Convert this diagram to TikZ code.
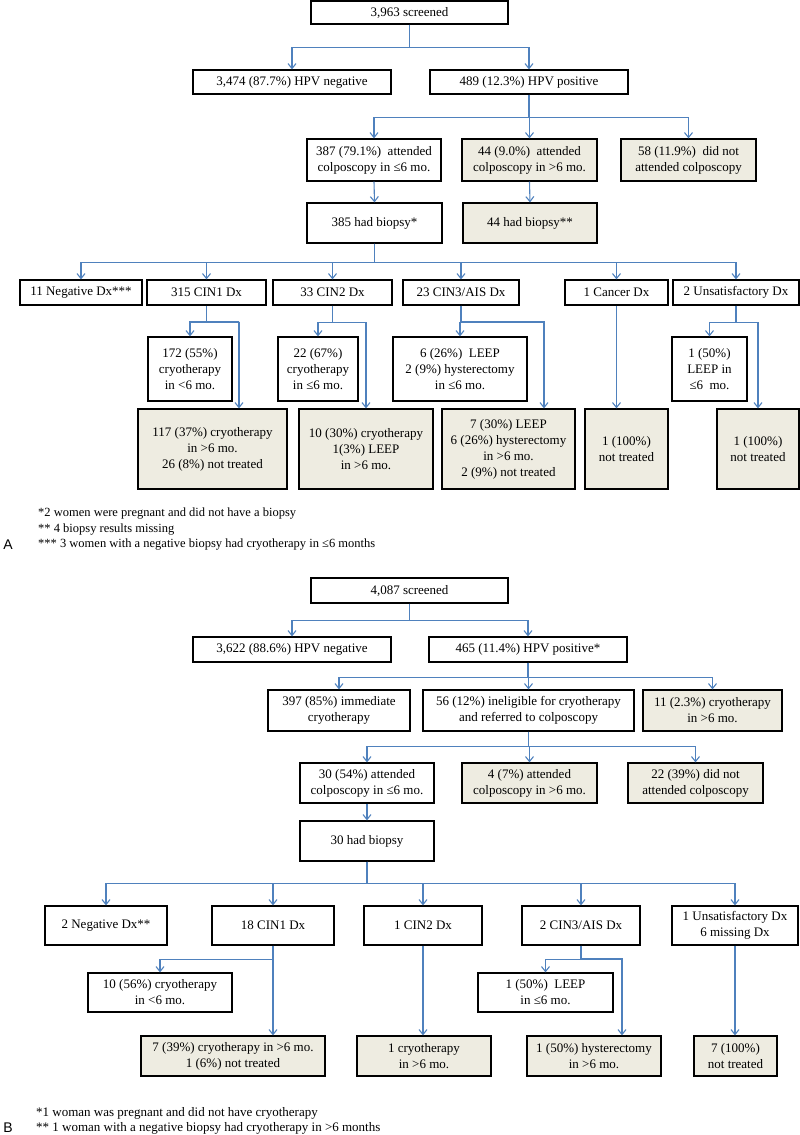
\documentclass[tikz,border=0pt]{standalone}
\usepackage{fontspec}
\setmainfont{Liberation Serif}
\newfontfamily\panelfont{Liberation Sans}
\usepackage{tikz}
\usetikzlibrary{calc}
\usetikzlibrary{arrows.meta}
\definecolor{linkblue}{RGB}{79,129,189}
\definecolor{lategray}{RGB}{238,236,225}
\tikzset{>={Straight Barb[length=5pt,width=8pt]}}
\tikzset{box/.style={draw,line width=1.2pt,align=center,inner sep=1pt,font=\fontsize{13}{16}\selectfont},
  late/.style={box,fill=lategray},
  wh/.style 2 args={minimum width=#1pt,minimum height=#2pt},
  conn/.style={->,draw=linkblue,line width=1.1pt},
  note/.style={anchor=west,inner sep=0pt,font=\fontsize{13}{15}\selectfont},
  panel/.style={inner sep=0pt,font=\panelfont\fontsize{14}{14}\selectfont}}

\begin{document}
\begin{tikzpicture}[x=1pt,y=-1pt]
\useasboundingbox (0,0) rectangle (800,1135);

\node[box,wh={197}{23}] (scrA) at (409.5,12.5) {3,963 screened};
\node[box,wh={198}{24}] (negA) at (292,82) {3,474 (87.7\%) HPV negative};
\node[box,wh={198}{24}] (posA) at (529,82) {489 (12.3\%) HPV positive};
\node[box,wh={134}{42}] (attA) at (374,160) {387 (79.1\%)\ \ attended\\colposcopy in ≤6 mo.};
\node[late,wh={135}{42}] (lateA) at (529.5,160) {44 (9.0\%)\ \ attended\\colposcopy in >6 mo.};
\node[late,wh={135}{42}] (noA) at (688.5,160) {58 (11.9\%)\ \ did not\\attended colposcopy};
\node[box,wh={135}{40}] (bioA) at (374.5,223) {385 had biopsy*};
\node[late,wh={134}{40}] (bio2A) at (530,223) {44 had biopsy**};
\node[box,wh={122}{25}] (negDxA) at (81,292.5) {11 Negative Dx***};
\node[box,wh={119}{25}] (cin1A) at (206.5,292.5) {315 CIN1 Dx};
\node[box,wh={119}{25}] (cin2A) at (332.5,292.5) {33 CIN2 Dx};
\node[box,wh={116}{25}] (cin3A) at (461,292.5) {23 CIN3/AIS Dx};
\node[box,wh={103}{25}] (cancA) at (616.5,292.5) {1 Cancer Dx};
\node[box,wh={126}{25}] (unsA) at (736,292.5) {2 Unsatisfactory Dx};
\node[box,wh={84}{64}] (cryo1A) at (190,369) {172 (55\%)\\cryotherapy\\in <6 mo.};
\node[box,wh={80}{64}] (cryo2A) at (318,369) {22 (67\%)\\cryotherapy\\in ≤6 mo.};
\node[box,wh={134}{64}] (leep3A) at (460,369) {6 (26\%)\ \ LEEP\\2 (9\%) hysterectomy\\in ≤6 mo.};
\node[box,wh={75}{64}] (leepuA) at (709.5,369) {1 (50\%)\\LEEP in\\≤6\ \ mo.};
\node[late,wh={149}{80}] (late1A) at (212.5,449) {117 (37\%) cryotherapy\\in >6 mo.\\26 (8\%) not treated};
\node[late,wh={134}{80}] (late2A) at (366,449) {10 (30\%) cryotherapy\\1(3\%) LEEP\\in >6 mo.};
\node[late,wh={133}{80}] (late3A) at (508.5,449) {7 (30\%) LEEP\\6 (26\%) hysterectomy\\in >6 mo.\\2 (9\%) not treated};
\node[late,wh={83}{80}] (lateCA) at (626.5,449) {1 (100\%)\\not treated};
\node[late,wh={82}{80}] (lateuA) at (758,449) {1 (100\%)\\not treated};
\coordinate (c1A) at (239,322);
\coordinate (c3A) at (544,322);

\draw[conn] (scrA.south) -- ++(0,23) -| (negA.north);
\draw[conn] (scrA.south) -- ++(0,23) -| (posA.north);
\draw[conn] (posA.south) -- ++(0,23) -| (attA.north);
\draw[conn] (posA.south) -- ++(0,23) -| (lateA.north);
\draw[conn] (posA.south) -- ++(0,23) -| (noA.north);
\draw[conn] (attA.south) -- (bioA.north);
\draw[conn] (lateA.south) -- (bio2A.north);
\draw[conn] (bioA.south) -- ++(0,19) -| (negDxA.north);
\draw[conn] (bioA.south) -- ++(0,19) -| (cin1A.north);
\draw[conn] (bioA.south) -- ++(0,19) -| (cin2A.north);
\draw[conn] (bioA.south) -- ++(0,19) -| (cin3A.north);
\draw[conn] (bioA.south) -- ++(0,19) -| (cancA.north);
\draw[conn] (bioA.south) -- ++(0,19) -| (unsA.north);
\draw[conn] (cin1A.south) |- (c1A) -| (cryo1A.north);
\draw[conn] (c1A) -- (c1A |- late1A.north);
\draw[conn] (cin2A.south) -- ++(0,17) -| (cryo2A.north);
\draw[conn] (cin2A.south) -- ++(0,17) -| (late2A.north);
\draw[conn] (cin3A.south) |- (c3A) -- (c3A |- late3A.north);
\draw[conn] (cin3A.south) -- ++(0,17) -| (leep3A.north);
\draw[conn] (cancA.south) -- (cancA.south |- lateCA.north);
\draw[conn] (unsA.south) -- ++(0,17) -| (leepuA.north);
\draw[conn] (unsA.south) -- ++(0,17) -| (lateuA.north);

\node[note,font=\fontsize{12.5}{15}\selectfont] (fnA1) at (38,514) {*2 women were pregnant and did not have a biopsy};
\node[note,font=\fontsize{12.5}{15}\selectfont] (fnA2) at (38,529.5) {** 4 biopsy results missing};
\node[note,font=\fontsize{12.5}{15}\selectfont] (fnA3) at (38,545) {*** 3 women with a negative biopsy had cryotherapy in ≤6 months};
\node[panel] (labA) at (8,545) {A};

\node[box,wh={197}{25}] (scrB) at (409.5,590.5) {4,087 screened};
\node[box,wh={198}{25}] (negB) at (292,649.5) {3,622 (88.6\%) HPV negative};
\node[box,wh={198}{25}] (posB) at (528,649.5) {465 (11.4\%) HPV positive*};
\node[box,wh={142}{41}] (immB) at (339,710.5) {397 (85\%) immediate\\cryotherapy};
\node[box,wh={211}{41}] (inelB) at (528.5,710.5) {56 (12\%) ineligible for cryotherapy\\and referred to colposcopy};
\node[late,wh={139}{41}] (cryB) at (712.5,710.5) {11 (2.3\%) cryotherapy\\in >6 mo.};
\node[box,wh={134}{40}] (attB) at (367,783) {30 (54\%) attended\\colposcopy in ≤6 mo.};
\node[late,wh={135}{40}] (lateB) at (529.5,783) {4 (7\%) attended\\colposcopy in >6 mo.};
\node[late,wh={135}{40}] (noB) at (695.5,783) {22 (39\%) did not\\attended colposcopy};
\node[box,wh={134}{40}] (bioB) at (367,841) {30 had biopsy};
\node[box,wh={122}{39}] (negDxB) at (106,925.5) {2 Negative Dx**};
\node[box,wh={122}{39}] (cin1B) at (273,925.5) {18 CIN1 Dx};
\node[box,wh={118}{39}] (cin2B) at (423,925.5) {1 CIN2 Dx};
\node[box,wh={118}{39}] (cin3B) at (581,925.5) {2 CIN3/AIS Dx};
\node[box,wh={126}{39}] (unsB) at (735,925.5) {1 Unsatisfactory Dx\\6 missing Dx};
\node[box,wh={144}{39}] (cryo1B) at (160,992.5) {10 (56\%) cryotherapy\\in <6 mo.};
\node[box,wh={135}{39}] (leep3B) at (545.5,992.5) {1 (50\%)\ \ LEEP\\in ≤6 mo.};
\node[late,wh={184}{40}] (late1B) at (233,1056) {7 (39\%) cryotherapy in >6 mo.\\1 (6\%) not treated};
\node[late,wh={134}{40}] (late2B) at (424,1056) {1 cryotherapy\\in >6 mo.};
\node[late,wh={134}{40}] (late3B) at (594,1056) {1 (50\%) hysterectomy\\in >6 mo.};
\node[late,wh={83}{40}] (lateuB) at (735.5,1056) {7 (100\%)\\not treated};
\coordinate (c3B) at (622,959);

\draw[conn] (scrB.south) -- ++(0,17) -| (negB.north);
\draw[conn] (scrB.south) -- ++(0,17) -| (posB.north);
\draw[conn] (posB.south) -- ++(0,15) -| (immB.north);
\draw[conn] (posB.south) -- ++(0,15) -| (inelB.north);
\draw[conn] (posB.south) -- ++(0,15) -| (cryB.north);
\draw[conn] (inelB.south) -- ++(0,15) -| (attB.north);
\draw[conn] (inelB.south) -- ++(0,15) -| (lateB.north);
\draw[conn] (inelB.south) -- ++(0,15) -| (noB.north);
\draw[conn] (attB.south) -- (bioB.north);
\draw[conn] (bioB.south) -- ++(0,22) -| (negDxB.north);
\draw[conn] (bioB.south) -- ++(0,22) -| (cin1B.north);
\draw[conn] (bioB.south) -- ++(0,22) -| (cin2B.north);
\draw[conn] (bioB.south) -- ++(0,22) -| (cin3B.north);
\draw[conn] (bioB.south) -- ++(0,22) -| (unsB.north);
\draw[conn] (cin1B.south) -- ++(0,14) -| (cryo1B.north);
\draw[conn] (cin1B.south) -- (cin1B.south |- late1B.north);
\draw[conn] (cin2B.south) -- (cin2B.south |- late2B.north);
\draw[conn] (cin3B.south) |- (c3B) -- (c3B |- late3B.north);
\draw[conn] (cin3B.south) -- ++(0,14) -| (leep3B.north);
\draw[conn] (unsB.south) -- (unsB.south |- lateuB.north);

\node[note] (fnB1) at (36,1113) {*1 woman was pregnant and did not have cryotherapy};
\node[note] (fnB2) at (36,1128) {** 1 woman with a negative biopsy had cryotherapy in >6 months};
\node[panel] (labB) at (8,1128) {B};
\end{tikzpicture}
\end{document}
